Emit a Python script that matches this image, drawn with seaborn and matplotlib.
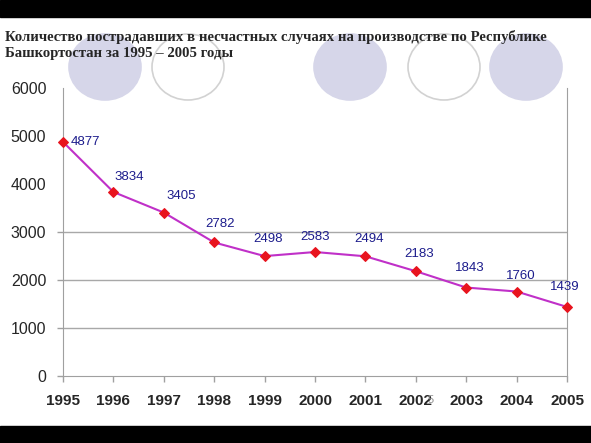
import seaborn as sns
import matplotlib.pyplot as plt
import pandas as pd
from matplotlib.patches import Ellipse, Rectangle

# data
years = [1995, 1996, 1997, 1998, 1999, 2000, 2001, 2002, 2003, 2004, 2005]
victims = [4877, 3834, 3405, 2782, 2498, 2583, 2494, 2183, 1843, 1760, 1439]
yticks = [0, 1000, 2000, 3000, 4000, 5000, 6000]
title = ("Количество пострадавших в несчастных случаях на производстве по Республике\n"
         "Башкортостан за 1995 – 2005 годы")

# label offsets in pixels (right, up) as placed on the slide
label_off = [(22, 0), (16, 15), (17, 17), (6, 18), (3, 17), (0, 15),
             (4, 17), (3, 17), (4, 20), (4, 16), (-2, 20)]

sns.set_style("white")
plt.rcParams['font.family'] = ['Liberation Sans', 'DejaVu Sans']

fig = plt.figure(figsize=(5.91, 4.43), dpi=100)

# slide decoration: black bars and circles
fig.patches.append(Rectangle((0, 1 - 17/443), 1, 17/443, transform=fig.transFigure,
                             color='black', zorder=0))
fig.patches.append(Rectangle((0, 0), 1, 17/443, transform=fig.transFigure,
                             color='black', zorder=0))
circles = [(105, True), (188, False), (350, True), (444, False), (526, True)]
for cx, filled in circles:
    e = Ellipse((cx/591, 1 - 67/443), 72/591, 66/443, transform=fig.transFigure,
                facecolor='#d6d6e9' if filled else 'white',
                edgecolor='#d6d6e9' if filled else '#d2d2d2', lw=1.2, zorder=0)
    fig.patches.append(e)

fig.text(5/591, 1 - 45/443, title, family='Liberation Serif', fontweight='bold',
         fontsize=10.6, va='center', ha='left', linespacing=1.25, zorder=5)

ax = fig.add_axes([63/591, 1 - 376/443, (567 - 63)/591, (376 - 88)/443])
ax.patch.set_alpha(0)

df = pd.DataFrame({'year': years, 'victims': victims})
sns.lineplot(data=df, x='year', y='victims', ax=ax, color='#c030c8', lw=1.5,
             marker='D', markersize=5, markerfacecolor='#e8141e',
             markeredgecolor='#e8141e', zorder=3, clip_on=False)

for (x, y), (dx, dy) in zip(zip(years, victims), label_off):
    ax.annotate(str(y), (x, y), xytext=(dx * 0.72, dy * 0.72), textcoords='offset points',
                ha='center', va='center', color='#1c1c8c', fontsize=9.5)

ax.set_xlim(1995, 2005)
ax.set_ylim(0, 6000)
ax.set_xticks(years)
ax.set_yticks(yticks)
ax.set_xticklabels([str(v) for v in years], fontweight='bold', fontsize=11)
ax.set_yticklabels([str(v) for v in yticks], fontsize=11.5)
ax.set_xlabel('')
ax.set_ylabel('')

ax.grid(axis='y', color='#a8a8a8', lw=1)
for gl, v in zip(ax.get_ygridlines(), yticks):
    gl.set_visible(0 < v <= 3000)
ax.tick_params(axis='both', length=4, width=1, color='#a0a0a0', left=True, bottom=True)
ax.tick_params(axis='x', pad=9)
ax.tick_params(axis='y', pad=8)
for tl, v in zip(ax.yaxis.get_major_ticks(), yticks):
    tl.tick1line.set_visible(v <= 3000)
for side in ['left', 'bottom', 'right']:
    ax.spines[side].set_color('#a0a0a0')
    ax.spines[side].set_visible(True)
ax.spines['top'].set_visible(False)

# slide number
fig.text(431/591, 1 - 400/443, '5', color='#909090', fontsize=8, ha='center', va='center')

fig.savefig('out.png', dpi=100)
